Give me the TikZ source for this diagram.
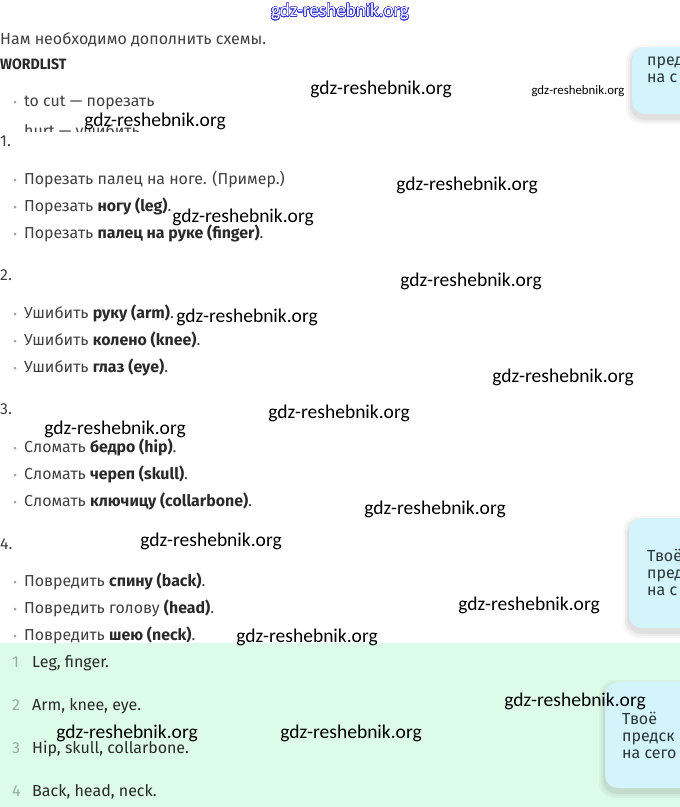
\documentclass[tikz,border=0pt]{standalone}
\usepackage{fontspec}
\setmainfont{Fira Sans}
\newfontfamily\wmfont{Carlito}
\usepackage[copies]{contour}
\contourlength{0.6pt}
\contournumber{24}
\definecolor{txt}{HTML}{404040}
\definecolor{bld}{HTML}{2A2A2A}
\definecolor{mint}{HTML}{DDFBE9}
\definecolor{cyanbox}{HTML}{D3F4FB}
\definecolor{numc}{HTML}{9AAAA2}
\definecolor{dotc}{HTML}{A0A0A0}
\definecolor{wmblue}{HTML}{3434D8}
\definecolor{boxtxt}{HTML}{2A3538}
\tikzset{
  body/.style={anchor=base west, inner sep=0pt, text=txt, font=\fontsize{15.9}{18}\selectfont},
  head/.style={anchor=base west, inner sep=0pt, text=txt, font=\fontsize{16}{18}\selectfont},
  wlist/.style={anchor=base west, inner sep=0pt, text=bld, font=\bfseries\fontsize{15}{16}\selectfont, xscale=0.94},
  bdot/.style={circle, fill=dotc, inner sep=0pt, minimum size=3pt},
  ans/.style={anchor=base west, inner sep=0pt, text=bld, font=\fontsize{16}{18}\selectfont},
  ansnum/.style={anchor=base west, inner sep=0pt, text=numc, font=\fontsize{16}{18}\selectfont},
  wm/.style={inner sep=0pt, text=black, font=\wmfont\fontsize{19.5}{21}\selectfont},
  wmsmall/.style={inner sep=0pt, text=black, font=\wmfont\fontsize{12.8}{14}\selectfont},
  tipbox/.style={fill=cyanbox, rounded corners=13pt},
  tiptext/.style={anchor=base west, inner sep=0pt, text=boxtxt, font=\fontsize{16}{18}\selectfont},
}
\newcommand{\tb}[1]{{\bfseries\color{bld}#1}}
\begin{document}
\begin{tikzpicture}[x=1pt,y=-1pt]
\useasboundingbox (0,0) rectangle (680,807);
\clip (0,0) rectangle (680,807);
\fill[white] (0,0) rectangle (680,807);
% green answer band
\fill[mint] (0,643) rectangle (680,807);
% tip boxes with soft shadows
\foreach \k/\o in {6/0.03,4/0.04,2/0.05}{
  \fill[black,opacity=\o,rounded corners=15pt] (632-\k,47-\k+4) rectangle (720+\k,114+\k+4);
  \fill[black,opacity=\o,rounded corners=15pt] (629-\k,518-\k+4) rectangle (720+\k,628+\k+4);
  \fill[black,opacity=\o,rounded corners=15pt] (605-\k,682-\k+4) rectangle (720+\k,788+\k+4);
}
\fill[tipbox] (632,47) rectangle (720,114);
\fill[tipbox] (629,518) rectangle (720,628);
\fill[tipbox] (605,682) rectangle (720,788);
\node[tiptext] (t1b) at (647,65) {пред};
\node[tiptext] (t1c) at (647,82) {на с};
\node[tiptext] (t2a) at (647,561) {Твоё};
\node[tiptext] (t2b) at (647,578) {пред};
\node[tiptext] (t2c) at (647,595) {на с};
\node[tiptext] (t3a) at (622,724) {Твоё};
\node[tiptext] (t3b) at (622,741) {предск};
\node[tiptext] (t3c) at (622,758) {на сего};
% header
\node[head] (intro) at (0,44) {Нам необходимо дополнить схемы.};
\node[wlist, anchor=base west] (wl) at (0,69) {WORDLIST};
\node[bdot] (d0) at (15,102) {};
\node[body] (w0) at (24,106) {to cut — порезать};
\begin{scope}
\clip (0,123) rectangle (200,131);
\node[body] (w1) at (24,136) {hurt — ушибить};
\end{scope}
% section 1
\node[body] (n1) at (0,146) {1.};
\node[bdot] (d11) at (15,180) {};
\node[body] (s11) at (24,184) {Порезать палец на ноге. (Пример.)};
\node[bdot] (d12) at (15,207) {};
\node[body] (s12) at (24,211) {Порезать \tb{ногу (leg)}.};
\node[bdot] (d13) at (15,234) {};
\node[body] (s13) at (24,238) {Порезать \tb{палец на руке (finger)}.};
% section 2
\node[body] (n2) at (0,280) {2.};
\node[bdot] (d21) at (15,314) {};
\node[body] (s21) at (24,318) {Ушибить \tb{руку (arm)}.};
\node[bdot] (d22) at (15,341) {};
\node[body] (s22) at (24,345) {Ушибить \tb{колено (knee)}.};
\node[bdot] (d23) at (15,368) {};
\node[body] (s23) at (24,372) {Ушибить \tb{глаз (eye)}.};
% section 3
\node[body] (n3) at (0,414) {3.};
\node[bdot] (d31) at (15,448) {};
\node[body] (s31) at (24,452) {Сломать \tb{бедро (hip)}.};
\node[bdot] (d32) at (15,475) {};
\node[body] (s32) at (24,479) {Сломать \tb{череп (skull)}.};
\node[bdot] (d33) at (15,502) {};
\node[body] (s33) at (24,506) {Сломать \tb{ключицу (collarbone)}.};
% section 4
\node[body] (n4) at (0,549) {4.};
\node[bdot] (d41) at (15,582) {};
\node[body] (s41) at (24,586) {Повредить \tb{спину (back)}.};
\node[bdot] (d42) at (15,609) {};
\node[body] (s42) at (24,613) {Повредить голову \tb{(head)}.};
\node[bdot] (d43) at (15,636) {};
\node[body] (s43) at (24,640) {Повредить \tb{шею (neck)}.};
% answers
\node[ansnum] (a1n) at (12,667) {1};
\node[ans] (a1) at (32,667) {Leg, finger.};
\node[ansnum] (a2n) at (12,710) {2};
\node[ans] (a2) at (32,710) {Arm, knee, eye.};
\node[ansnum] (a3n) at (12,753) {3};
\node[ans] (a3) at (32,753) {Hip, skull, collarbone.};
\node[ansnum] (a4n) at (12,796) {4};
\node[ans] (a4) at (32,796) {Back, head, neck.};
% watermarks
\node[inner sep=0pt, font=\wmfont\fontsize{19}{20}\selectfont] (wtop) at (340,12) {\contour{wmblue}{\textcolor{white}{gdz-reshebnik.org}}};
\node[wm] (m1) at (381,89) {gdz-reshebnik.org};
\node[wmsmall] (m2) at (578,91) {gdz-reshebnik.org};
\node[wm] (m3) at (155,121) {gdz-reshebnik.org};
\node[wm] (m4) at (467,185) {gdz-reshebnik.org};
\node[wm] (m5) at (243,217) {gdz-reshebnik.org};
\node[wm] (m6) at (471,281) {gdz-reshebnik.org};
\node[wm] (m7) at (247,317) {gdz-reshebnik.org};
\node[wm] (m8) at (563,377) {gdz-reshebnik.org};
\node[wm] (m9) at (339,413) {gdz-reshebnik.org};
\node[wm] (m10) at (115,429) {gdz-reshebnik.org};
\node[wm] (m11) at (435,509) {gdz-reshebnik.org};
\node[wm] (m12) at (211,541) {gdz-reshebnik.org};
\node[wm] (m13) at (529,605) {gdz-reshebnik.org};
\node[wm] (m14) at (307,637) {gdz-reshebnik.org};
\node[wm] (m15) at (575,701) {gdz-reshebnik.org};
\node[wm] (m16) at (127,733) {gdz-reshebnik.org};
\node[wm] (m17) at (351,733) {gdz-reshebnik.org};
\end{tikzpicture}
\end{document}
